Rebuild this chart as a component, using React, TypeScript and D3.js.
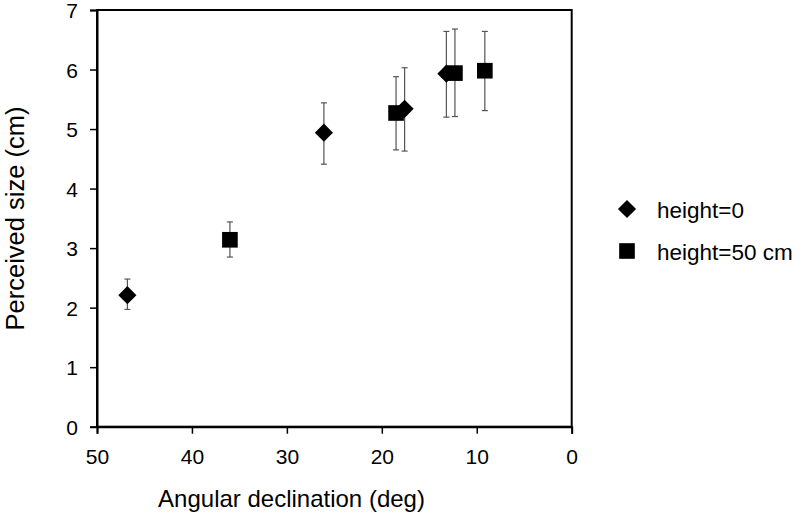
import React, { useEffect, useRef } from 'react'
import * as d3 from 'd3'

// values: angular declination (deg), perceived size (cm), error bar ends
const seriesNames = ['height=0', 'height=50 cm']
const diamondX = [46.8, 26.1, 17.6, 13.2]
const diamondY = [2.21, 4.94, 5.34, 5.93]
const diamondLo = [1.97, 4.41, 4.63, 5.2]
const diamondHi = [2.48, 5.44, 6.03, 6.64]
const squareX = [36.0, 18.5, 12.3, 9.15]
const squareY = [3.14, 5.27, 5.94, 5.98]
const squareLo = [2.85, 4.65, 5.21, 5.31]
const squareHi = [3.44, 5.88, 6.68, 6.64]
const xTicks = [50, 40, 30, 20, 10, 0]
const yTicks = [0, 1, 2, 3, 4, 5, 6, 7]

const FONT = '"Liberation Sans", Arial, sans-serif'

export default function App () {
  const ref = useRef<SVGSVGElement>(null)

  useEffect(() => {
    const svg = d3.select(ref.current)
    svg.selectAll('*').remove()

    const left = 97, right = 571.7, top = 10, bottom = 426.7
    const x = d3.scaleLinear().domain([50, 0]).range([left, right])
    const y = d3.scaleLinear().domain([0, 7]).range([bottom, top])

    // frame
    svg.append('rect')
      .attr('x', left).attr('y', top)
      .attr('width', right - left).attr('height', bottom - top)
      .attr('fill', 'none').attr('stroke', '#000').attr('stroke-width', 2)

    const fmt = d3.format('d')
    const xAxis = svg.append('g')
      .attr('transform', `translate(0,${bottom})`)
      .call(d3.axisBottom(x).tickValues(xTicks).tickFormat(fmt).tickSize(7).tickPadding(8))
    const yAxis = svg.append('g')
      .attr('transform', `translate(${left},0)`)
      .call(d3.axisLeft(y).tickValues(yTicks).tickFormat(fmt).tickSize(7).tickPadding(12))
    ;[xAxis, yAxis].forEach(a => {
      a.select('.domain').attr('stroke-width', 2)
      a.selectAll('.tick line').attr('stroke-width', 1.5)
      a.selectAll('.tick text').attr('font-family', FONT).attr('font-size', 21).attr('fill', '#000')
    })
    xAxis.selectAll('.tick text').attr('dy', 22.3)
    yAxis.selectAll('.tick text').attr('dy', 7.5)

    svg.append('text')
      .attr('x', 291.5).attr('y', 507)
      .attr('text-anchor', 'middle')
      .attr('font-family', FONT).attr('font-size', 24)
      .text('Angular declination (deg)')
    svg.append('text')
      .attr('transform', 'translate(24,218.5) rotate(-90)')
      .attr('text-anchor', 'middle')
      .attr('font-family', FONT).attr('font-size', 25.5)
      .text('Perceived size (cm)')

    const diamonds = diamondX.map((v, i) => ({ x: v, y: diamondY[i], lo: diamondLo[i], hi: diamondHi[i] }))
    const squares = squareX.map((v, i) => ({ x: v, y: squareY[i], lo: squareLo[i], hi: squareHi[i] }))
    const all = diamonds.concat(squares)

    // error bars
    const err = svg.append('g').attr('stroke', '#555').attr('stroke-width', 1.2).attr('fill', 'none')
    all.forEach(d => {
      err.append('line').attr('x1', x(d.x)).attr('x2', x(d.x)).attr('y1', y(d.lo)).attr('y2', y(d.hi))
      err.append('line').attr('x1', x(d.x) - 3).attr('x2', x(d.x) + 3).attr('y1', y(d.lo)).attr('y2', y(d.lo))
      err.append('line').attr('x1', x(d.x) - 3).attr('x2', x(d.x) + 3).attr('y1', y(d.hi)).attr('y2', y(d.hi))
    })

    const diamondPath = d3.symbol().type(d3.symbolDiamond2).size(210)
    const squarePath = d3.symbol().type(d3.symbolSquare).size(245)

    svg.append('g').selectAll('path').data(diamonds).enter()
      .append('path')
      .attr('d', diamondPath)
      .attr('transform', d => `translate(${x(d.x)},${y(d.y)})`)
      .attr('fill', '#000')
    svg.append('g').selectAll('path').data(squares).enter()
      .append('path')
      .attr('d', squarePath)
      .attr('transform', d => `translate(${x(d.x)},${y(d.y)})`)
      .attr('fill', '#000')

    // legend
    const legend = svg.append('g').attr('font-family', FONT).attr('font-size', 22.5)
    legend.append('path').attr('d', diamondPath).attr('transform', 'translate(627,209)').attr('fill', '#000')
    legend.append('path').attr('d', squarePath).attr('transform', 'translate(627,251)').attr('fill', '#000')
    legend.append('text').attr('x', 657).attr('y', 218).text(seriesNames[0])
    legend.append('text').attr('x', 657).attr('y', 260).text(seriesNames[1])
  }, [])

  return (
    <svg ref={ref} width={800} height={514} style={{ position: 'absolute', left: 0, top: 0, background: '#fff' }} />
  )
}
